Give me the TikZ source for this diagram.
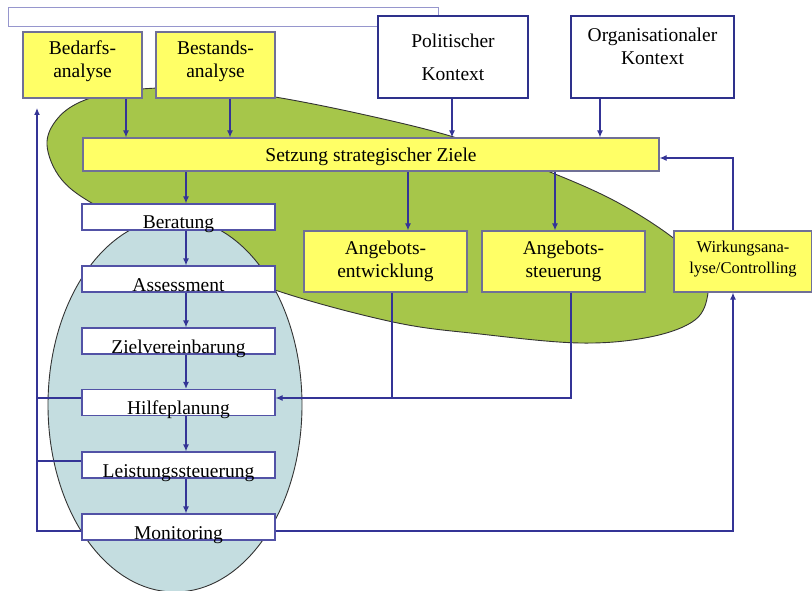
\documentclass[tikz,border=0pt]{standalone}
\usepackage{fontspec}
\setmainfont{Liberation Serif}
\usetikzlibrary{arrows.meta}

\definecolor{linkblue}{RGB}{52,52,150}
\definecolor{navy}{RGB}{46,49,140}
\definecolor{rimgray}{RGB}{112,112,150}
\definecolor{stripblue}{RGB}{150,150,205}
\definecolor{boxyellow}{RGB}{255,255,102}
\definecolor{leafgreen}{RGB}{166,198,74}
\definecolor{paleblue}{RGB}{196,221,224}

\tikzset{
  yellowbox/.style={draw=rimgray, line width=1.2pt, fill=boxyellow, align=center,
    inner sep=0pt, minimum height=61pt, font=\fontsize{19.5}{23}\selectfont},
  stepbox/.style={draw=linkblue!85, line width=1.2pt, fill=white, inner sep=0pt,
    minimum width=193pt, minimum height=26pt, text height=24pt, text depth=0pt,
    font=\fontsize{19.5}{23}\selectfont},
  contextbox/.style={draw=navy, line width=2.6pt, fill=white, align=center,
    inner sep=0pt, minimum height=82pt, font=\fontsize{19.5}{23}\selectfont},
  flow/.style={draw=linkblue, line width=1.2pt, -{Latex[length=7pt,width=6pt]}},
  wire/.style={draw=linkblue, line width=1.2pt},
}

\begin{document}
\begin{tikzpicture}[x=1pt, y=-1pt]
  \useasboundingbox (0,0) rectangle (812,591);

  % -- empty strip along the top --
  \draw[draw=stripblue, fill=white, line width=1pt] (8,8) rectangle (438,27);

  % -- green area (strategic level) --
  \draw[fill=leafgreen, draw=black!80, line width=0.9pt]
    plot[smooth cycle, tension=0.6] coordinates {
      (47,145) (58,118) (85,100) (130,90) (200,88) (275,97) (370,116)
      (457,138) (540,168) (613,200) (672,237) (703,268) (708,293)
      (695,320) (650,337) (580,343) (480,334) (393,322) (275,290)
      (180,250) (100,208) (62,180)};

  % -- blue area (case level) --
  \draw[fill=paleblue, draw=black!80, line width=0.9pt] (175,405) ellipse (127 and 187);

  % -- top boxes --
  \node[yellowbox, minimum width=119pt, minimum height=66pt, text depth=11pt] (bedarf) at (82.5,65) {Bedarfs-\\analyse};
  \node[yellowbox, minimum width=119pt, minimum height=66pt, text depth=11pt] (bestand) at (215.5,65) {Bestands-\\analyse};
  \node[contextbox, minimum width=150pt] (polit) at (453,57) {Politischer\\[10pt]Kontext};
  \node[contextbox, minimum width=163pt, text depth=22pt] (orga) at (652.5,57) {Organisationaler\\Kontext};

  % -- strategic goals --
  \node[yellowbox, minimum width=576pt, minimum height=33pt, text height=19pt, text depth=4pt] (ziele) at (371,154.5) {Setzung strategischer Ziele};

  % -- case steps --
  \foreach \name/\ypos/\txt in {berat/217/Beratung, assess/279/Assessment,
      zielv/341/Zielvereinbarung, hilfe/402.5/Hilfeplanung,
      leist/465/Leistungssteuerung, monit/527/Monitoring} {
    \node[stepbox] (\name) at (178.5,\ypos) {\txt};
  }

  % -- offer boxes --
  \node[yellowbox, minimum width=163pt] (angentw) at (385.5,261.5) {Angebots-\\entwicklung};
  \node[yellowbox, minimum width=163pt] (angst) at (563.5,261.5) {Angebots-\\steuerung};
  \node[yellowbox, minimum width=138pt, text depth=9pt, font=\fontsize{16.5}{21}\selectfont] (wirk) at (743,261.5) {Wirkungsana-\\lyse/Controlling};

  % -- inputs to the goals --
  \draw[flow] ([xshift=43.5pt]bedarf.south) -- ([xshift=43.5pt]bedarf.south |- ziele.north);
  \draw[flow] ([xshift=14.5pt]bestand.south) -- ([xshift=14.5pt]bestand.south |- ziele.north);
  \draw[flow] ([xshift=-1pt]polit.south) -- ([xshift=-1pt]polit.south |- ziele.north);
  \draw[flow] ([xshift=-52.5pt]orga.south) -- ([xshift=-52.5pt]orga.south |- ziele.north);

  % -- goals down to steps and offers --
  \draw[flow] ([xshift=7.5pt]berat.north |- ziele.south) -- ([xshift=7.5pt]berat.north);
  \draw[flow] ([xshift=22.5pt]angentw.north |- ziele.south) -- ([xshift=22.5pt]angentw.north);
  \draw[flow] ([xshift=-8.5pt]angst.north |- ziele.south) -- ([xshift=-8.5pt]angst.north);

  % -- step chain --
  \foreach \a/\b in {berat/assess, assess/zielv, zielv/hilfe, hilfe/leist, leist/monit} {
    \draw[flow] ([xshift=7.5pt]\a.south) -- ([xshift=7.5pt]\b.north);
  }

  % -- offers into planning --
  \coordinate (hilfein) at ([yshift=4.5pt]hilfe.east);
  \draw[wire] ([xshift=6.5pt]angentw.south) -- ([xshift=6.5pt]angentw.south |- hilfein);
  \draw[flow] ([xshift=7.5pt]angst.south) |- (hilfein);

  % -- controlling loop --
  \draw[flow] ([yshift=-4pt]monit.east) -| ([xshift=-10pt]wirk.south);
  \draw[flow] ([xshift=-10pt]wirk.north) |- ([yshift=-3.5pt]ziele.east);

  % -- feedback on the left --
  \coordinate (fbtop) at (37,108);
  \draw[flow] ([yshift=-4pt]monit.west) -| (fbtop);
  \draw[wire] ([yshift=4.5pt]hilfe.west) -- ++(-45,0);
  \draw[wire] ([yshift=4pt]leist.west) -- ++(-45,0);

\end{tikzpicture}
\end{document}
